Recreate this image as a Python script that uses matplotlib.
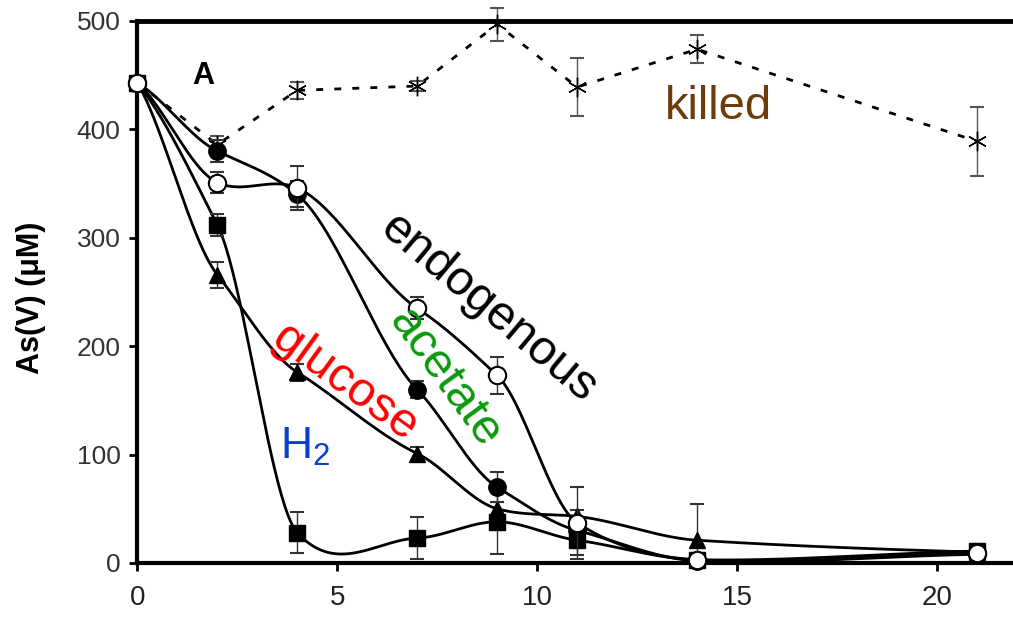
import numpy as np
import matplotlib
matplotlib.use("Agg")
import matplotlib.pyplot as plt

plt.rcParams['font.family'] = ['Liberation Sans', 'DejaVu Sans']
plt.rcParams['mathtext.fontset'] = 'custom'
plt.rcParams['mathtext.rm'] = 'Liberation Sans'

# ---- data (days vs As(V) uM) ----
days = [0, 2, 4, 7, 9, 11, 14, 21]
killed = [443, 386, 436, 440, 497, 439, 474, 389]
killed_err = [5, 8, 8, 5, 15, 27, 13, 32]
endogenous = [443, 351, 346, 235, 173, 37, 3, 9]        # open circles
endogenous_err = [5, 10, 20, 10, 17, 33, 2, 3]
acetate = [443, 380, 340, 160, 70, 30, 2, 8]            # filled circles
acetate_err = [5, 10, 12, 8, 14, 5, 2, 2]
glucose = [443, 266, 176, 101, 50, 43, 21, 10]          # triangles
glucose_err = [5, 12, 8, 6, 6, 6, 33, 3]
h2 = [443, 312, 28, 23, 38, 21, 3, 11]                  # filled squares
h2_err = [5, 10, 19, 19, 30, 14, 2, 3]

xticks = [0, 5, 10, 15, 20]
yticks = [0, 100, 200, 300, 400, 500]


def cardinal_spline(x, y, tension=0.3, n=80):
    x = np.asarray(x, float)
    y = np.asarray(y, float)
    k = len(x)
    m = np.zeros(k)
    for i in range(k):
        if i == 0:
            m[i] = (y[1] - y[0]) / (x[1] - x[0])
        elif i == k - 1:
            m[i] = (y[-1] - y[-2]) / (x[-1] - x[-2])
        else:
            m[i] = (y[i + 1] - y[i - 1]) / (x[i + 1] - x[i - 1])
    m *= (1 - tension)
    xs_all, ys_all = [], []
    for i in range(k - 1):
        h = x[i + 1] - x[i]
        t = np.linspace(0, 1, n)
        h00 = 2 * t ** 3 - 3 * t ** 2 + 1
        h10 = t ** 3 - 2 * t ** 2 + t
        h01 = -2 * t ** 3 + 3 * t ** 2
        h11 = t ** 3 - t ** 2
        xs_all.append(x[i] + t * h)
        ys_all.append(h00 * y[i] + h10 * h * m[i] + h01 * y[i + 1] + h11 * h * m[i + 1])
    return np.concatenate(xs_all), np.concatenate(ys_all)


W, H = 1013, 624
fig = plt.figure(figsize=(W / 100, H / 100), dpi=100)
ax = fig.add_axes([137.3 / W, 1 - 563 / H, 1 - 137.3 / W, (563 - 21) / H])
ax.set_xlim(0, 21.9)
ax.set_ylim(0, 500)

ecol = '#333333'

# killed: dashed straight segments with asterisks
ax.plot(days, killed, linestyle=(0, (2.5, 4)), color='black', lw=2, zorder=3)
ax.errorbar(days, killed, yerr=killed_err, fmt='none', ecolor='#555555',
            elinewidth=1, capsize=5, capthick=1.5, zorder=3, clip_on=False)
ax.plot(days, killed, linestyle='none', marker=(6, 2, 0), markersize=14,
        markeredgecolor='black', markeredgewidth=1.0, color='black', zorder=4,
        clip_on=False)

series = [
    (h2, h2_err, dict(marker='s', markersize=11.5, markerfacecolor='black', markeredgecolor='black')),
    (glucose, glucose_err, dict(marker='^', markersize=11.5, markerfacecolor='black', markeredgecolor='black')),
    (acetate, acetate_err, dict(marker='o', markersize=12.5, markerfacecolor='black', markeredgecolor='black')),
    (endogenous, endogenous_err, dict(marker='o', markersize=12.5, markerfacecolor='white',
                                      markeredgecolor='black', markeredgewidth=1.5)),
]
for i, (vals, err, mk) in enumerate(series):
    xs, ys = cardinal_spline(days, vals)
    ax.plot(xs, ys, color='black', lw=2, zorder=5 + i)
    ax.errorbar(days, vals, yerr=err, fmt='none', ecolor=ecol, elinewidth=1,
                capsize=5, capthick=1.5, zorder=5 + i)
    ax.plot(days, vals, linestyle='none', zorder=6 + i, clip_on=False, **mk)

# spines / ticks
for s in ['left', 'bottom']:
    ax.spines[s].set_linewidth(3)
ax.spines['top'].set_linewidth(3.5)
ax.spines['right'].set_visible(False)
ax.set_xticks(xticks)
ax.set_yticks(yticks)
ax.tick_params(axis='both', direction='out', length=6, width=2, colors='black')
ax.tick_params(axis='x', labelsize=20, pad=10)
ax.tick_params(axis='y', labelsize=19, pad=6)
for lab in ax.get_yticklabels():
    lab.set_color('#333333')
for lab in ax.get_xticklabels():
    lab.set_color('#222222')

fig.text(31 / W, 1 - 298 / H, 'As(V) (\u03bcM)', rotation=90, ha='center',
         va='center', fontsize=22, fontweight='bold')


def px(x, y):
    return (x / W, 1 - y / H)


fig.text(*px(203, 76), 'A', ha='center', va='center', fontsize=22, fontweight='bold')
fig.text(*px(718, 107), 'killed', ha='center', va='center', fontsize=34, color='#6E3B0B')
fig.text(*px(489, 309), 'endogenous', ha='center', va='center', fontsize=35,
         color='black', rotation=-40, rotation_mode='anchor')
fig.text(*px(445, 378), 'acetate', ha='center', va='center', fontsize=35,
         color='#0A9A0A', rotation=-54, rotation_mode='anchor')
fig.text(*px(345, 383), 'glucose', ha='center', va='center', fontsize=35,
         color='#FF0000', rotation=-36, rotation_mode='anchor')
fig.text(*px(305, 447), r'H$_\mathrm{2}$', ha='center', va='center', fontsize=32,
         color='#0A40D0')

fig.savefig('out.png', dpi=100)
